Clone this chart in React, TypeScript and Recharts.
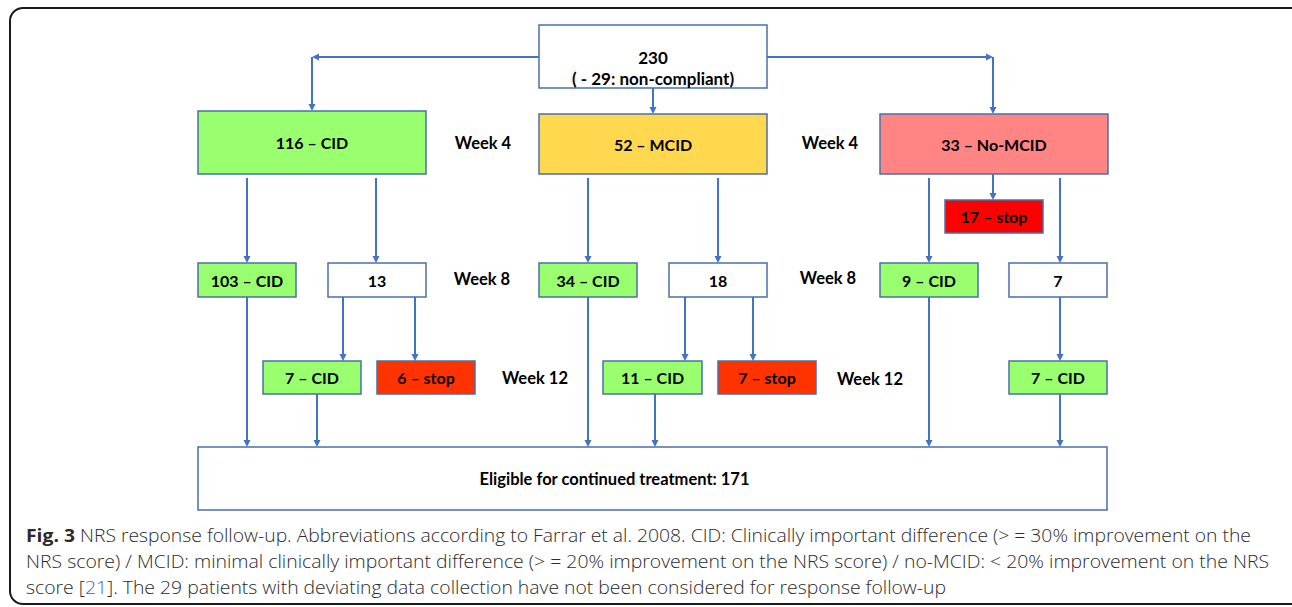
import React from "react";
import { ScatterChart, Scatter, XAxis, YAxis, ReferenceArea, ReferenceLine } from "recharts";

// follow-up counts per visit
const startLabel = "230";
const startNote = "( - 29: non-compliant)";
const week4Labels = ["116 – CID", "52 – MCID", "33 – No-MCID"];
const week4Stop = "17 – stop";
const week8Labels = ["103 – CID", "13", "34 – CID", "18", "9 – CID", "7"];
const week12Labels = ["7 – CID", "6 – stop", "11 – CID", "7 – stop", "7 – CID"];
const finalLabel = "Eligible for continued treatment: 171";
const weekTexts = ["Week 4", "Week 4", "Week 8", "Week 8", "Week 12", "Week 12"];

const captionLines = [
  "NRS response follow-up. Abbreviations according to Farrar et al. 2008. CID: Clinically important difference (> = 30% improvement on the",
  "NRS score) / MCID: minimal clinically important difference (> = 20% improvement on the NRS score) / no-MCID: < 20% improvement on the NRS",
  "]. The 29 patients with deviating data collection have not been considered for response follow-up",
];

const W = 1292;
const H = 607;

const FILL: Record<string, string> = {
  plain: "#ffffff",
  cid: "#99ff6e",
  mcid: "#ffd84f",
  nomcid: "#ff8585",
  stop: "#ff0000",
  stop2: "#ff3300",
};
const BORDER = "#4a70a8";
const LINK = "#4472c4";

// box layout: [x1, x2, y1, y2, kind]
const week4Boxes: [number, number, number, number, string][] = [
  [198, 426, 111, 174, "cid"],
  [539, 767, 114, 174, "mcid"],
  [880, 1108, 114, 174, "nomcid"],
];
const stopBox: [number, number, number, number, string] = [945, 1043, 200, 233, "stop"];
const week8Boxes: [number, number, number, number, string][] = [
  [198, 296, 263, 297, "cid"],
  [328, 426, 263, 297, "plain"],
  [539, 637, 263, 297, "cid"],
  [669, 767, 263, 297, "plain"],
  [880, 978, 263, 297, "cid"],
  [1009, 1107, 263, 297, "plain"],
];
const week12Boxes: [number, number, number, number, string][] = [
  [263, 361, 361, 394, "cid"],
  [377, 475, 361, 394, "stop2"],
  [603, 702, 361, 394, "cid"],
  [718, 816, 361, 394, "stop2"],
  [1009, 1107, 361, 394, "cid"],
];
const weekPos = [
  { x: 483, y: 143 },
  { x: 830, y: 143 },
  { x: 482, y: 279 },
  { x: 828, y: 278 },
  { x: 535, y: 378 },
  { x: 870, y: 379 },
];

// connectors, each ends in an arrow head
const links: [number, number, number, number][] = [
  [539, 57, 312, 57],
  [312, 57, 312, 111],
  [767, 57, 993, 57],
  [993, 57, 993, 114],
  [653, 88, 653, 114],
  [247, 178, 247, 263],
  [376, 178, 376, 263],
  [588, 178, 588, 263],
  [718, 178, 718, 263],
  [929, 178, 929, 263],
  [993, 174, 993, 200],
  [1060, 178, 1060, 263],
  [247, 297, 247, 447],
  [343, 297, 343, 361],
  [415, 297, 415, 361],
  [317, 394, 317, 447],
  [588, 297, 588, 447],
  [685, 297, 685, 361],
  [753, 297, 753, 361],
  [655, 394, 655, 447],
  [929, 297, 929, 447],
  [1060, 297, 1060, 361],
  [1060, 394, 1060, 447],
];

const boxFont = { fontFamily: "Lato, 'Noto Sans', sans-serif", fontWeight: 700, fontSize: 16 };

const Arrow = (p: any) => {
  const { x1, y1, x2, y2 } = p;
  const dx = x2 - x1;
  const dy = y2 - y1;
  const len = Math.sqrt(dx * dx + dy * dy) || 1;
  const ux = dx / len;
  const uy = dy / len;
  const bx = x2 - ux * 7;
  const by = y2 - uy * 7;
  const pts = `${x2},${y2} ${bx - uy * 3.5},${by + ux * 3.5} ${bx + uy * 3.5},${by - ux * 3.5}`;
  return (
    <g>
      <line x1={x1} y1={y1} x2={bx} y2={by} stroke={LINK} strokeWidth={2} />
      <polygon points={pts} fill={LINK} />
    </g>
  );
};

const centerLabel = (text: string, dx = 0, size = 16) => (props: any) => {
  const { x, y, width, height } = props.viewBox;
  return (
    <text
      x={x + width / 2 + dx}
      y={y + height / 2}
      textAnchor="middle"
      dominantBaseline="central"
      fill="#000"
      style={{ ...boxFont, fontSize: size }}
    >
      {text}
    </text>
  );
};

const startLabelFn = (props: any) => {
  const { x, y, width } = props.viewBox;
  return (
    <g style={{ ...boxFont, fontSize: 17 }} fill="#000">
      <text x={x + width / 2} y={y + 32} textAnchor="middle" dominantBaseline="central">
        {startLabel}
      </text>
      <text x={x + width / 2} y={y + 53} textAnchor="middle" dominantBaseline="central">
        {startNote}
      </text>
    </g>
  );
};

const WeekText = (p: any) => (
  <text x={p.cx} y={p.cy} textAnchor="middle" dominantBaseline="central" fill="#000" style={{ ...boxFont, fontSize: 16.5 }}>
    {p.payload.label}
  </text>
);

function box(b: [number, number, number, number, string], label: any, key: string) {
  return (
    <ReferenceArea
      key={key}
      x1={b[0]}
      x2={b[1]}
      y1={b[2]}
      y2={b[3]}
      fill={FILL[b[4]]}
      fillOpacity={1}
      stroke={BORDER}
      strokeWidth={1.5}
      ifOverflow="visible"
      label={label}
    />
  );
}

export default function App() {
  const weekData = weekTexts.map((label, i) => ({ ...weekPos[i], label }));
  return (
    <div style={{ position: "absolute", left: 0, top: 0, width: W, height: H, overflow: "hidden", background: "#fff" }}>
      <div
        style={{
          position: "absolute",
          left: 9,
          top: 7,
          width: 1300,
          height: 594,
          border: "2px solid #1a1a1a",
          borderRadius: 14,
        }}
      />
      <div style={{ position: "absolute", left: 0, top: 0 }}>
        <ScatterChart width={W} height={H} margin={{ top: 0, right: 0, bottom: 0, left: 0 }}>
          <XAxis type="number" dataKey="x" domain={[0, W]} allowDataOverflow hide />
          <YAxis type="number" dataKey="y" domain={[0, H]} allowDataOverflow reversed hide />
          {box([539, 767, 25, 88, "plain"], startLabelFn, "start")}
          {week4Boxes.map((b, i) => box(b, centerLabel(week4Labels[i]), "w4" + i))}
          {box(stopBox, centerLabel(week4Stop), "stop17")}
          {week8Boxes.map((b, i) => box(b, centerLabel(week8Labels[i]), "w8" + i))}
          {week12Boxes.map((b, i) => box(b, centerLabel(week12Labels[i]), "w12" + i))}
          {box([198, 1107, 447, 510, "plain"], centerLabel(finalLabel, -38, 16.5), "final")}
          {links.map((l, i) => (
            <ReferenceLine
              key={"l" + i}
              segment={[
                { x: l[0], y: l[1] },
                { x: l[2], y: l[3] },
              ]}
              ifOverflow="visible"
              shape={Arrow}
            />
          ))}
          <Scatter data={weekData} shape={WeekText} isAnimationActive={false} />
        </ScatterChart>
      </div>
      <svg width={W} height={H} style={{ position: "absolute", left: 0, top: 0, pointerEvents: "none" }}>
        <g style={{ fontFamily: "'Open Sans', sans-serif", fontSize: 18.5, fontWeight: 300 }} fill="#2b2b2b">
          <text x={26} y={542} textLength={1225} lengthAdjust="spacingAndGlyphs">
            <tspan fontWeight={700}>Fig. 3</tspan> {captionLines[0]}
          </text>
          <text x={26} y={568} textLength={1243} lengthAdjust="spacingAndGlyphs">
            {captionLines[1]}
          </text>
          <text x={26} y={594} textLength={920} lengthAdjust="spacingAndGlyphs">
            score [<tspan fill="#3a5bd9">21</tspan>
            {captionLines[2]}
          </text>
        </g>
      </svg>
    </div>
  );
}
